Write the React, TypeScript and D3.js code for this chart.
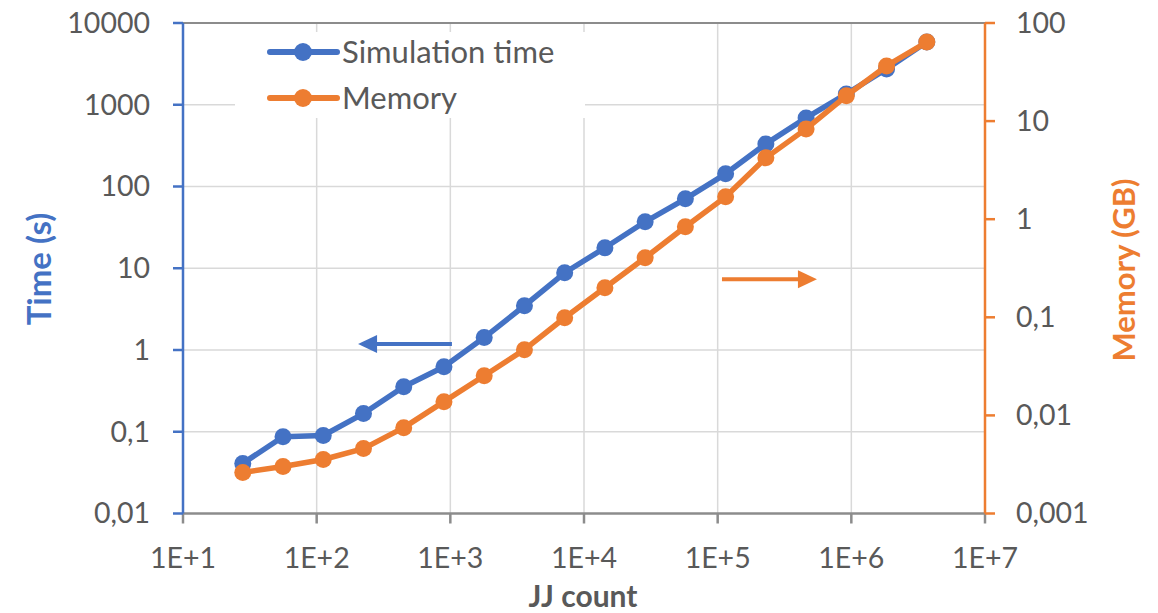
import React from "react";
import * as d3 from "d3";

const jjCount = [28, 56, 112, 224, 448, 896, 1792, 3584, 7168, 14336, 28672, 57344, 114688, 229376, 458752, 917504, 1835008, 3670016];
const simTime = [0.041, 0.087, 0.09, 0.167, 0.356, 0.625, 1.42, 3.48, 8.8, 17.8, 37, 70.7, 143, 332, 690, 1357, 2740, 5860];
const memoryGB = [0.00262, 0.00301, 0.00355, 0.00459, 0.0075, 0.0138, 0.0254, 0.0468, 0.099, 0.2, 0.404, 0.837, 1.69, 4.22, 8.33, 18.1, 36.5, 64];

const xTicks = [1e1, 1e2, 1e3, 1e4, 1e5, 1e6, 1e7];
const leftTicks = [0.01, 0.1, 1, 10, 100, 1000, 10000];
const rightTicks = [0.001, 0.01, 0.1, 1, 10, 100];

const seriesNames = ["Simulation time", "Memory"];
const BLUE = "#4472C4";
const ORANGE = "#ED7D31";
const TEXT = "#595959";
const FONT = "Lato, 'Open Sans', sans-serif";

const W = 1158, H = 613;
const L = 183, R = 985, T = 23, B = 513.5;

const fmt = (v: number) => String(v).replace(".", ",");
const fmtX = (v: number) => "1E+" + Math.round(Math.log10(v));

export default function App() {
  const x = d3.scaleLog().domain([10, 1e7]).range([L, R]);
  const yL = d3.scaleLog().domain([0.01, 10000]).range([B, T]);
  const yR = d3.scaleLog().domain([0.001, 100]).range([B, T]);

  const lineL = d3.line<number>().x((_, i) => x(jjCount[i])).y((d) => yL(d));
  const lineR = d3.line<number>().x((_, i) => x(jjCount[i])).y((d) => yR(d));

  // annotation arrows (data coordinates)
  const bArrowY = yL(1.18);
  const bx1 = x(1028), bx2 = x(204);
  const oArrowY = yR(0.244);
  const ox1 = x(107700), ox2 = x(553000);

  const lg = { x: 235, y: 32, w: 350, h: 86 };

  return (
    <svg width={W} height={H} style={{ position: "absolute", left: 0, top: 0, background: "#fff" }} fontFamily={FONT}>
      <rect x={0} y={0} width={W} height={H} fill="#fff" />
      {/* gridlines */}
      {xTicks.slice(1, -1).map((t) => (
        <line key={"gx" + t} x1={x(t)} x2={x(t)} y1={T} y2={B} stroke="#d9d9d9" strokeWidth={1.5} />
      ))}
      {leftTicks.slice(1, -1).map((t) => (
        <line key={"gy" + t} x1={L} x2={R} y1={yL(t)} y2={yL(t)} stroke="#d9d9d9" strokeWidth={1.5} />
      ))}
      <line x1={L} x2={R} y1={T} y2={T} stroke="#8c8c8c" strokeWidth={2} />

      {/* legend background */}
      <rect x={lg.x} y={lg.y} width={lg.w} height={lg.h} fill="#fff" />

      {/* x axis */}
      <line x1={L} x2={R} y1={B} y2={B} stroke="#8c8c8c" strokeWidth={2.5} />
      {xTicks.map((t) => (
        <g key={"xt" + t}>
          <line x1={x(t)} x2={x(t)} y1={B} y2={B + 10} stroke="#8c8c8c" strokeWidth={2.5} />
          <text x={x(t)} y={568} textAnchor="middle" fontSize={28.5} fill={TEXT}>{fmtX(t)}</text>
        </g>
      ))}
      {/* left axis */}
      <line x1={L} x2={L} y1={T} y2={B} stroke={BLUE} strokeWidth={2.5} />
      {leftTicks.map((t) => (
        <g key={"lt" + t}>
          <line x1={L - 10} x2={L} y1={yL(t)} y2={yL(t)} stroke={BLUE} strokeWidth={2.5} />
          <text x={150} y={yL(t)} dy="0.35em" textAnchor="end" fontSize={28.5} fill={TEXT}>{fmt(t)}</text>
        </g>
      ))}
      {/* right axis */}
      <line x1={R} x2={R} y1={T} y2={B} stroke={ORANGE} strokeWidth={2.5} />
      {rightTicks.map((t) => (
        <g key={"rt" + t}>
          <line x1={R} x2={R + 10} y1={yR(t)} y2={yR(t)} stroke={ORANGE} strokeWidth={2.5} />
          <text x={1016} y={yR(t)} dy="0.35em" textAnchor="start" fontSize={28.5} fill={TEXT}>{fmt(t)}</text>
        </g>
      ))}

      {/* axis titles */}
      <text transform="translate(51,269) rotate(-90)" textAnchor="middle" fontSize={33} fontWeight="bold" fill={BLUE}>Time (s)</text>
      <text transform="translate(1135,270) rotate(-90)" textAnchor="middle" fontSize={31} fontWeight="bold" fill={ORANGE}>Memory (GB)</text>
      <text x={583} y={607} textAnchor="middle" fontSize={30} fontWeight="bold" fill={TEXT}>JJ count</text>

      {/* series */}
      <path d={lineL(simTime) || ""} fill="none" stroke={BLUE} strokeWidth={5.5} strokeLinejoin="round" />
      {simTime.map((v, i) => (
        <circle key={"b" + i} cx={x(jjCount[i])} cy={yL(v)} r={8.5} fill={BLUE} />
      ))}
      <path d={lineR(memoryGB) || ""} fill="none" stroke={ORANGE} strokeWidth={5.5} strokeLinejoin="round" />
      {memoryGB.map((v, i) => (
        <circle key={"o" + i} cx={x(jjCount[i])} cy={yR(v)} r={8.5} fill={ORANGE} />
      ))}

      {/* arrows */}
      <line x1={bx1} x2={bx2 + 16} y1={bArrowY} y2={bArrowY} stroke={BLUE} strokeWidth={4} />
      <path d={`M${bx2},${bArrowY} L${bx2 + 19},${bArrowY - 9} L${bx2 + 19},${bArrowY + 9} Z`} fill={BLUE} />
      <line x1={ox1} x2={ox2 - 16} y1={oArrowY} y2={oArrowY} stroke={ORANGE} strokeWidth={4} />
      <path d={`M${ox2},${oArrowY} L${ox2 - 19},${oArrowY - 9} L${ox2 - 19},${oArrowY + 9} Z`} fill={ORANGE} />

      {/* legend */}
      {seriesNames.map((name, i) => {
        const yy = 52 + i * 46;
        const c = i === 0 ? BLUE : ORANGE;
        return (
          <g key={name}>
            <line x1={270} x2={337} y1={yy} y2={yy} stroke={c} strokeWidth={6} strokeLinecap="round" />
            <circle cx={303} cy={yy} r={9} fill={c} />
            <text x={342} y={yy} dy="0.36em" fontSize={31} fill={TEXT}>{name}</text>
          </g>
        );
      })}
    </svg>
  );
}
